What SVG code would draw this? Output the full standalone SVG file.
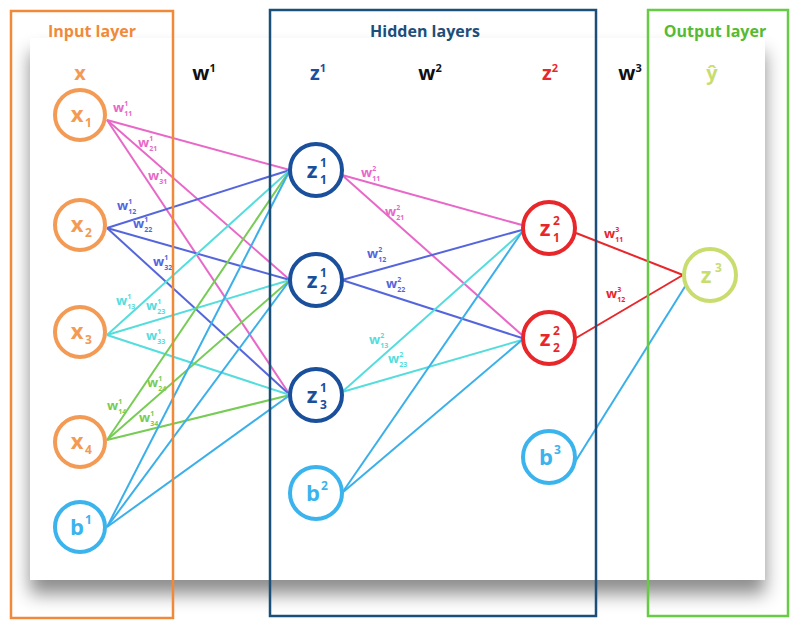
<svg xmlns="http://www.w3.org/2000/svg" width="800" height="627" viewBox="0 0 800 627">
<defs>
<filter id="sh" x="-10%" y="-10%" width="120%" height="130%"><feDropShadow dx="0" dy="14" stdDeviation="9" flood-color="#000" flood-opacity="0.45"/></filter>
<style>
text{font-family:"Open Sans","Liberation Sans",sans-serif;font-weight:bold}
.n{fill:#fff;stroke-width:4}
.o{stroke:#f39a55}.d{stroke:#1a4f9c}.r{stroke:#e8272b}.lb{stroke:#3bb4ee}.g{stroke:#c9dd6e}
.e line{stroke-width:2}
.pk{stroke:#e868c8}.bl{stroke:#5566dd}.cy{stroke:#55dddd}.gr{stroke:#77cc55}.sk{stroke:#3aafea}.rd{stroke:#e8272b}
.wl{font-size:13px}
.sub{font-size:7px}
.nt{font-size:22px;text-anchor:middle}
.ns{font-size:12px}
.h{font-size:20px;text-anchor:middle}
.t{font-size:16px;text-anchor:middle}
</style>
</defs>
<rect x="30" y="38" width="735" height="542" fill="#fff" filter="url(#sh)"/>
<g id="connectors" class="e">
<line class="pk" x1="107" y1="120" x2="290" y2="170"/><line class="pk" x1="107" y1="120" x2="290" y2="280"/><line class="pk" x1="107" y1="120" x2="290" y2="395"/>
<line class="bl" x1="107" y1="228" x2="290" y2="170"/><line class="bl" x1="107" y1="228" x2="290" y2="280"/><line class="bl" x1="107" y1="228" x2="290" y2="395"/>
<line class="cy" x1="107" y1="335" x2="290" y2="170"/><line class="cy" x1="107" y1="335" x2="290" y2="280"/><line class="cy" x1="107" y1="335" x2="290" y2="395"/>
<line class="gr" x1="107" y1="440" x2="290" y2="170"/><line class="gr" x1="107" y1="440" x2="290" y2="280"/><line class="gr" x1="107" y1="440" x2="290" y2="395"/>
<line class="sk" x1="107" y1="527" x2="290" y2="170"/><line class="sk" x1="107" y1="527" x2="290" y2="280"/><line class="sk" x1="107" y1="527" x2="290" y2="395"/>
<line class="pk" x1="342" y1="175" x2="522" y2="225"/><line class="pk" x1="342" y1="175" x2="522" y2="335"/>
<line class="bl" x1="342" y1="280" x2="522" y2="230"/><line class="bl" x1="342" y1="280" x2="522" y2="338"/>
<line class="cy" x1="342" y1="392" x2="522" y2="232"/><line class="cy" x1="342" y1="392" x2="522" y2="340"/>
<line class="sk" x1="342" y1="493" x2="522" y2="232"/><line class="sk" x1="342" y1="493" x2="522" y2="340"/>
<line class="rd" x1="576" y1="233" x2="683" y2="275"/><line class="rd" x1="576" y1="338" x2="683" y2="275"/>
<line class="sk" x1="570" y1="470" x2="686" y2="285"/>
</g>
<g id="wlabels" class="wl">
<text x="113" y="112" fill="#e868c8">w<tspan class="sub" dy="-6">1</tspan><tspan class="sub" dx="-4" dy="10">11</tspan></text>
<text x="138" y="147" fill="#e868c8">w<tspan class="sub" dy="-6">1</tspan><tspan class="sub" dx="-4" dy="10">21</tspan></text>
<text x="148" y="180" fill="#e868c8">w<tspan class="sub" dy="-6">1</tspan><tspan class="sub" dx="-4" dy="10">31</tspan></text>
<text x="117" y="210" fill="#5566dd">w<tspan class="sub" dy="-6">1</tspan><tspan class="sub" dx="-4" dy="10">12</tspan></text>
<text x="133" y="228" fill="#5566dd">w<tspan class="sub" dy="-6">1</tspan><tspan class="sub" dx="-4" dy="10">22</tspan></text>
<text x="153" y="266" fill="#5566dd">w<tspan class="sub" dy="-6">1</tspan><tspan class="sub" dx="-4" dy="10">32</tspan></text>
<text x="116" y="305" fill="#55dddd">w<tspan class="sub" dy="-6">1</tspan><tspan class="sub" dx="-4" dy="10">13</tspan></text>
<text x="146" y="310" fill="#55dddd">w<tspan class="sub" dy="-6">1</tspan><tspan class="sub" dx="-4" dy="10">23</tspan></text>
<text x="146" y="340" fill="#55dddd">w<tspan class="sub" dy="-6">1</tspan><tspan class="sub" dx="-4" dy="10">33</tspan></text>
<text x="147" y="387" fill="#77cc55">w<tspan class="sub" dy="-6">1</tspan><tspan class="sub" dx="-4" dy="10">24</tspan></text>
<text x="107" y="410" fill="#77cc55">w<tspan class="sub" dy="-6">1</tspan><tspan class="sub" dx="-4" dy="10">14</tspan></text>
<text x="139" y="422" fill="#77cc55">w<tspan class="sub" dy="-6">1</tspan><tspan class="sub" dx="-4" dy="10">34</tspan></text>
<text x="361" y="177" fill="#e868c8">w<tspan class="sub" dy="-6">2</tspan><tspan class="sub" dx="-4" dy="10">11</tspan></text>
<text x="385" y="216" fill="#e868c8">w<tspan class="sub" dy="-6">2</tspan><tspan class="sub" dx="-4" dy="10">21</tspan></text>
<text x="367" y="258" fill="#5566dd">w<tspan class="sub" dy="-6">2</tspan><tspan class="sub" dx="-4" dy="10">12</tspan></text>
<text x="386" y="288" fill="#5566dd">w<tspan class="sub" dy="-6">2</tspan><tspan class="sub" dx="-4" dy="10">22</tspan></text>
<text x="369" y="344" fill="#55dddd">w<tspan class="sub" dy="-6">2</tspan><tspan class="sub" dx="-4" dy="10">13</tspan></text>
<text x="388" y="363" fill="#55dddd">w<tspan class="sub" dy="-6">2</tspan><tspan class="sub" dx="-4" dy="10">23</tspan></text>
<text x="604" y="238" fill="#e8272b">w<tspan class="sub" dy="-6">3</tspan><tspan class="sub" dx="-4" dy="10">11</tspan></text>
<text x="606" y="298" fill="#e8272b">w<tspan class="sub" dy="-6">3</tspan><tspan class="sub" dx="-4" dy="10">12</tspan></text>
</g>
<g id="input-box"><rect x="11" y="11" width="162" height="607" fill="none" stroke="#f08a3a" stroke-width="2.5"/><text class="t" x="92" y="37" fill="#f08a3a">Input layer</text></g>
<g id="hidden-box"><rect x="270" y="10" width="326" height="606" fill="none" stroke="#1b4f7a" stroke-width="2.5"/><text class="t" x="425" y="37" fill="#1b4f7a">Hidden layers</text></g>
<g id="output-box"><rect x="648" y="10" width="140" height="606" fill="none" stroke="#66cc44" stroke-width="2.5"/><text class="t" x="715" y="37" fill="#55bb33">Output layer</text></g>
<g id="headers" class="h">
<text x="80" y="80" fill="#f39a55">x</text>
<text x="204" y="80" fill="#111">w<tspan font-size="11" dy="-8">1</tspan></text>
<text x="318" y="80" fill="#1a4f9c">z<tspan font-size="11" dy="-8">1</tspan></text>
<text x="430" y="80" fill="#111">w<tspan font-size="11" dy="-8">2</tspan></text>
<text x="550" y="80" fill="#e8272b">z<tspan font-size="11" dy="-8">2</tspan></text>
<text x="630" y="80" fill="#111">w<tspan font-size="11" dy="-8">3</tspan></text>
<text x="712" y="80" fill="#c9dd6e">ŷ</text>
</g>
<g id="x1" fill="#f39a55"><circle class="n o" cx="80" cy="115" r="25"/><text class="nt" x="77" y="122">x</text><text class="ns" x="85" y="127">1</text></g>
<g id="x2" fill="#f39a55"><circle class="n o" cx="80" cy="225" r="25"/><text class="nt" x="77" y="232">x</text><text class="ns" x="85" y="237">2</text></g>
<g id="x3" fill="#f39a55"><circle class="n o" cx="80" cy="332" r="25"/><text class="nt" x="77" y="339">x</text><text class="ns" x="85" y="344">3</text></g>
<g id="x4" fill="#f39a55"><circle class="n o" cx="80" cy="442" r="25"/><text class="nt" x="77" y="449">x</text><text class="ns" x="85" y="454">4</text></g>
<g id="b1" fill="#3bb4ee"><circle class="n lb" cx="80" cy="527" r="25"/><text class="nt" x="77" y="535">b</text><text class="ns" x="85" y="524">1</text></g>
<g id="z11" fill="#1a4f9c"><circle class="n d" cx="316" cy="170" r="26"/><text class="nt" x="312" y="178">z</text><text class="ns" x="320" y="167">1</text><text class="ns" x="320" y="184">1</text></g>
<g id="z12" fill="#1a4f9c"><circle class="n d" cx="316" cy="280" r="26"/><text class="nt" x="312" y="288">z</text><text class="ns" x="320" y="277">1</text><text class="ns" x="320" y="294">2</text></g>
<g id="z13" fill="#1a4f9c"><circle class="n d" cx="316" cy="395" r="26"/><text class="nt" x="312" y="403">z</text><text class="ns" x="320" y="392">1</text><text class="ns" x="320" y="409">3</text></g>
<g id="b2" fill="#3bb4ee"><circle class="n lb" cx="316" cy="493" r="26"/><text class="nt" x="313" y="501">b</text><text class="ns" x="321" y="490">2</text></g>
<g id="z21" fill="#e8272b"><circle class="n r" cx="549" cy="228" r="26"/><text class="nt" x="545" y="236">z</text><text class="ns" x="553" y="225">2</text><text class="ns" x="553" y="242">1</text></g>
<g id="z22" fill="#e8272b"><circle class="n r" cx="549" cy="338" r="26"/><text class="nt" x="545" y="346">z</text><text class="ns" x="553" y="335">2</text><text class="ns" x="553" y="352">2</text></g>
<g id="b3" fill="#3bb4ee"><circle class="n lb" cx="549" cy="457" r="26"/><text class="nt" x="546" y="465">b</text><text class="ns" x="554" y="454">3</text></g>
<g id="z3" fill="#c9dd6e"><circle class="n g" cx="710" cy="275" r="26"/><text class="nt" x="706" y="283">z</text><text class="ns" x="715" y="272">3</text></g>
</svg>
